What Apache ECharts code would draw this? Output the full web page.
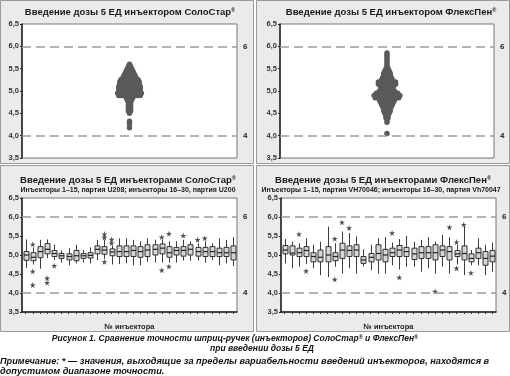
<!DOCTYPE html>
<html>
<head>
<meta charset="utf-8">
<script src="https://cdn.jsdelivr.net/npm/echarts/dist/echarts.min.js"></script>
<style>
html, body { margin: 0; padding: 0; background: #fff; }
#main { width: 510px; height: 376px; }
</style>
</head>
<body>
<div id="main"></div>
<script>
// верхние панели: доза и число введений на этом уровне
const soloDoses  = [5.60, 5.55, 5.50, 5.45, 5.40, 5.35, 5.30, 5.25, 5.20, 5.15, 5.10, 5.05, 5.00, 4.95, 4.90, 4.85, 4.80, 4.75, 4.70, 4.65, 4.60, 4.55, 4.50, 4.32, 4.26, 4.18];
const soloCounts = [1, 2, 3, 4, 5, 6, 7, 9, 10, 10, 11, 11, 11, 12, 11, 4, 3, 2, 2, 2, 2, 2, 1, 1, 1, 1];
const flexDoses  = [5.85, 5.80, 5.75, 5.70, 5.65, 5.60, 5.55, 5.50, 5.45, 5.40, 5.35, 5.30, 5.25, 5.20, 5.15, 5.10, 5.05, 5.00, 4.95, 4.90, 4.85, 4.80, 4.75, 4.70, 4.65, 4.60, 4.55, 4.50, 4.45, 4.40, 4.35, 4.30, 4.05];
const flexCounts = [1, 1, 1, 1, 1, 1, 1, 2, 3, 4, 4, 5, 6, 9, 9, 7, 6, 8, 11, 13, 12, 8, 7, 6, 5, 4, 4, 3, 2, 2, 1, 1, 1];

// нижние панели: 30 инъекторов
const injectors = ['1','2','3','4','5','6','7','8','9','10','11','12','13','14','15','16','17','18','19','20','21','22','23','24','25','26','27','28','29','30'];

const soloLow  = [4.66, 4.75, 4.64, 4.92, 4.87, 4.80, 4.73, 4.78, 4.80, 4.78, 4.87, 4.90, 4.75, 4.76, 4.78, 4.73, 4.73, 4.82, 4.80, 4.80, 4.80, 4.80, 4.85, 4.85, 4.85, 4.80, 4.87, 4.73, 4.78, 4.71];
const soloQ1   = [4.86, 4.85, 4.93, 5.03, 4.96, 4.91, 4.87, 4.85, 4.91, 4.92, 5.03, 5.02, 4.98, 4.96, 4.96, 4.96, 4.94, 4.96, 5.00, 5.03, 4.94, 5.00, 4.97, 5.00, 4.97, 4.96, 4.96, 4.96, 4.96, 4.87];
const soloMed  = [5.00, 4.94, 5.09, 5.15, 5.04, 4.98, 4.96, 4.98, 4.98, 4.99, 5.15, 5.13, 5.08, 5.09, 5.09, 5.12, 5.09, 5.13, 5.15, 5.18, 5.06, 5.12, 5.12, 5.15, 5.09, 5.09, 5.09, 5.06, 5.06, 5.06];
const soloQ3   = [5.09, 5.06, 5.22, 5.30, 5.12, 5.04, 5.03, 5.12, 5.04, 5.06, 5.24, 5.22, 5.16, 5.24, 5.24, 5.24, 5.22, 5.27, 5.27, 5.29, 5.22, 5.20, 5.22, 5.27, 5.20, 5.20, 5.22, 5.18, 5.20, 5.24];
const soloHigh = [5.41, 5.20, 5.40, 5.41, 5.27, 5.12, 5.18, 5.27, 5.13, 5.20, 5.40, 5.40, 5.24, 5.44, 5.44, 5.40, 5.36, 5.44, 5.40, 5.40, 5.36, 5.36, 5.40, 5.36, 5.31, 5.36, 5.31, 5.44, 5.40, 5.47];
const soloOut  = [[1, 5.28], [1, 4.57], [1, 4.21], [3, 4.39], [3, 4.27], [4, 4.72], [11, 5.55], [11, 5.46], [11, 4.82], [12, 5.41], [12, 5.31], [19, 5.47], [19, 4.60], [20, 5.56], [20, 4.70], [22, 5.51], [24, 5.40], [25, 5.44]];

const flexLow  = [4.78, 4.65, 4.69, 4.76, 4.65, 4.47, 4.42, 4.69, 4.51, 4.65, 4.51, 4.70, 4.60, 4.51, 4.51, 4.73, 4.62, 4.69, 4.69, 4.56, 4.65, 4.51, 4.69, 4.51, 4.75, 4.47, 4.73, 4.73, 4.47, 4.56];
const flexQ1   = [5.03, 5.00, 4.96, 4.96, 4.82, 4.82, 4.82, 4.85, 4.91, 4.96, 4.96, 4.78, 4.82, 4.87, 4.82, 4.96, 4.96, 4.96, 4.88, 4.91, 4.91, 4.87, 4.96, 4.87, 4.96, 4.87, 4.82, 4.91, 4.73, 4.82];
const flexMed  = [5.13, 5.05, 5.06, 5.12, 4.96, 4.94, 5.00, 4.96, 5.13, 5.12, 5.13, 4.87, 4.94, 5.04, 5.00, 5.06, 5.13, 5.09, 5.03, 5.06, 5.06, 5.06, 5.13, 5.09, 5.03, 5.04, 4.91, 5.06, 4.91, 4.97];
const flexQ3   = [5.25, 5.24, 5.18, 5.22, 5.06, 5.13, 5.22, 5.06, 5.31, 5.24, 5.27, 4.96, 5.04, 5.27, 5.15, 5.18, 5.25, 5.20, 5.18, 5.22, 5.22, 5.27, 5.24, 5.22, 5.12, 5.24, 5.03, 5.18, 5.09, 5.12];
const flexHigh = [5.42, 5.35, 5.31, 5.44, 5.27, 5.35, 5.75, 5.31, 5.62, 5.58, 5.49, 5.15, 5.27, 5.44, 5.47, 5.33, 5.42, 5.50, 5.35, 5.40, 5.47, 5.35, 5.53, 5.47, 5.27, 5.75, 5.13, 5.44, 5.27, 5.33];
const flexOut  = [[2, 5.55], [3, 4.58], [7, 5.43], [7, 4.36], [8, 5.86], [9, 5.71], [15, 5.58], [16, 4.41], [21, 4.04], [23, 5.73], [24, 5.34], [24, 4.65], [25, 5.80], [26, 4.53]];

const limits = [6, 4];

const FONT = '"Liberation Sans", Arial, sans-serif';

function swarm(doses, counts) {
	let pts = [];
	doses.forEach(function (d, i) {
		let n = counts[i];
		for (let k = 0; k < n; k++) {
			pts.push([k - (n - 1) / 2, d]);
		}
	});
	return pts;
}

function boxData(low, q1, med, q3, high) {
	return injectors.map(function (c, i) {
		return [i, low[i], q1[i], med[i], q3[i], high[i]];
	});
}

function renderBox(params, api) {
	let i = api.value(0);
	let pLo = api.coord([i, api.value(1)]);
	let pQ1 = api.coord([i, api.value(2)]);
	let pMed = api.coord([i, api.value(3)]);
	let pQ3 = api.coord([i, api.value(4)]);
	let pHi = api.coord([i, api.value(5)]);
	let x = Math.round(pLo[0]) + 0.5;
	let w = 5;
	return {
		type: 'group',
		children: [
			{ type: 'line', shape: { x1: x, y1: pHi[1], x2: x, y2: pLo[1] }, style: { stroke: '#3c3c3c', lineWidth: 1 } },
			{ type: 'rect', shape: { x: x - w / 2, y: pQ3[1], width: w, height: pQ1[1] - pQ3[1] }, style: { fill: '#d6d6d6', stroke: '#333', lineWidth: 1 } },
			{ type: 'line', shape: { x1: x - w / 2, y1: pMed[1], x2: x + w / 2, y2: pMed[1] }, style: { stroke: '#222', lineWidth: 1.2 } }
		]
	};
}

let limitLine = {
	silent: true,
	symbol: 'none',
	lineStyle: { color: '#9c9c9c', type: [9, 5], width: 1.5 },
	label: {
		position: 'end',
		formatter: function (p) { return String(p.value); },
		color: '#222', fontSize: 8, fontWeight: 'bold', fontFamily: FONT, distance: 6
	},
	data: limits.map(function (v) { return { yAxis: v }; })
};

function yAxisFor(idx) {
	return {
		gridIndex: idx,
		type: 'value',
		min: 3.5, max: 6.5, interval: 0.5,
		axisLine: { show: true, onZero: false, lineStyle: { color: '#222', width: 1.5 } },
		axisTick: { show: true, length: 2, lineStyle: { color: '#222' } },
		axisLabel: {
			margin: 3,
			fontSize: 7.5, fontWeight: 'bold', color: '#333', fontFamily: FONT,
			formatter: function (v) { return v.toFixed(1).replace('.', ','); }
		},
		splitLine: { show: false }
	};
}

function catAxisFor(idx) {
	return {
		gridIndex: idx,
		type: 'category',
		data: injectors,
		axisLine: { show: true, lineStyle: { color: '#222', width: 1.5 } },
		axisTick: { show: true, alignWithLabel: true, interval: 0, length: 2, lineStyle: { color: '#333' } },
		axisLabel: { show: false },
		name: '№ инъектора',
		nameLocation: 'middle',
		nameGap: 11,
		nameTextStyle: { fontSize: 7.5, fontWeight: 'bold', color: '#222', fontFamily: FONT }
	};
}

function titleText(x, y, text, size) {
	return {
		type: 'text',
		x: x, y: y,
		style: {
			text: text,
			align: 'center', verticalAlign: 'middle',
			textAlign: 'center', textVerticalAlign: 'middle',
			font: 'bold ' + size + 'px ' + FONT,
			fill: '#1a1a1a',
			rich: { sup: { fontSize: 5.5, fontWeight: 'bold', fontFamily: FONT, verticalAlign: 'top', fill: '#1a1a1a' } }
		}
	};
}

function captionText(x, y, text, align, size) {
	return {
		type: 'text',
		x: x, y: y,
		style: {
			text: text,
			align: align, verticalAlign: 'middle',
			textAlign: align, textVerticalAlign: 'middle',
			font: 'italic bold ' + size + 'px ' + FONT,
			fill: '#111',
			rich: { sup: { fontSize: 5.5, fontStyle: 'italic', fontWeight: 'bold', fontFamily: FONT, verticalAlign: 'top', fill: '#111' } }
		}
	};
}

function panel(x, y, w, h) {
	return {
		type: 'rect', z: -10,
		shape: { x: x, y: y, width: w, height: h },
		style: { fill: '#ebebeb', stroke: '#9a9a9a', lineWidth: 1 }
	};
}

let chart = echarts.init(document.getElementById('main'));

let option = {
	backgroundColor: '#fff',
	animation: false,
	graphic: [
		panel(0.5, 0.5, 253, 163),
		panel(256.5, 0.5, 253, 163),
		panel(0.5, 165.5, 253, 166),
		panel(256.5, 165.5, 253, 166),
		titleText(130, 12, 'Введение дозы 5 ЕД инъектором СолоСтар{sup|®}', 9.5),
		titleText(391, 12, 'Введение дозы 5 ЕД инъектором ФлексПен{sup|®}', 9.5),
		titleText(128, 180, 'Введение дозы 5 ЕД инъекторами СолоСтар{sup|®}', 9.5),
		titleText(128, 190, 'Инъекторы 1–15, партия U208; инъекторы 16–30, партия U200', 7),
		titleText(383, 180, 'Введение дозы 5 ЕД инъекторами ФлексПен{sup|®}', 9.5),
		titleText(381, 190, 'Инъекторы 1–15, партия VH70046; инъекторы 16–30, партия Vh70047', 7),
		captionText(235, 339, 'Рисунок 1. Сравнение точности шприц-ручек (инъекторов) СолоСтар{sup|®} и ФлексПен{sup|®}', 'center', 8.5),
		captionText(262, 349, 'при введении дозы 5 ЕД', 'center', 8.5),
		captionText(0, 361, 'Примечание: * — значения, выходящие за пределы вариабельности введений инъекторов, находятся в', 'left', 9.2),
		captionText(0, 371, 'допустимом диапазоне точности.', 'left', 9.2)
	],
	grid: [
		{ left: 22, top: 24, width: 215, height: 134, show: true, backgroundColor: '#fff', borderColor: '#777', borderWidth: 1 },
		{ left: 280, top: 24, width: 214, height: 134, show: true, backgroundColor: '#fff', borderColor: '#777', borderWidth: 1 },
		{ left: 22, top: 198, width: 215, height: 114, show: true, backgroundColor: '#fff', borderColor: '#777', borderWidth: 1 },
		{ left: 281, top: 198, width: 215, height: 114, show: true, backgroundColor: '#fff', borderColor: '#777', borderWidth: 1 }
	],
	xAxis: [
		{ gridIndex: 0, type: 'value', min: -50, max: 50, show: false },
		{ gridIndex: 1, type: 'value', min: -50, max: 50, show: false },
		catAxisFor(2),
		catAxisFor(3)
	],
	yAxis: [yAxisFor(0), yAxisFor(1), yAxisFor(2), yAxisFor(3)],
	series: [
		{
			type: 'scatter', xAxisIndex: 0, yAxisIndex: 0,
			symbolSize: 5.5, itemStyle: { color: '#5a5a5a', opacity: 1 },
			silent: true,
			data: swarm(soloDoses, soloCounts),
			markLine: limitLine
		},
		{
			type: 'scatter', xAxisIndex: 1, yAxisIndex: 1,
			symbolSize: 5.5, itemStyle: { color: '#5a5a5a', opacity: 1 },
			silent: true,
			data: swarm(flexDoses, flexCounts),
			markLine: limitLine
		},
		{
			type: 'custom', xAxisIndex: 2, yAxisIndex: 2,
			renderItem: renderBox,
			encode: { x: 0, y: [1, 2, 3, 4, 5] },
			data: boxData(soloLow, soloQ1, soloMed, soloQ3, soloHigh),
			markLine: limitLine
		},
		{
			type: 'scatter', xAxisIndex: 2, yAxisIndex: 2,
			symbol: 'path://M50,0 L61,35 L98,35 L68,57 L79,91 L50,70 L21,91 L32,57 L2,35 L39,35 Z',
			symbolSize: 6, itemStyle: { color: '#222' }, silent: true,
			data: soloOut
		},
		{
			type: 'custom', xAxisIndex: 3, yAxisIndex: 3,
			renderItem: renderBox,
			encode: { x: 0, y: [1, 2, 3, 4, 5] },
			data: boxData(flexLow, flexQ1, flexMed, flexQ3, flexHigh),
			markLine: limitLine
		},
		{
			type: 'scatter', xAxisIndex: 3, yAxisIndex: 3,
			symbol: 'path://M50,0 L61,35 L98,35 L68,57 L79,91 L50,70 L21,91 L32,57 L2,35 L39,35 Z',
			symbolSize: 6, itemStyle: { color: '#222' }, silent: true,
			data: flexOut
		}
	]
};

chart.setOption(option);
</script>
</body>
</html>
